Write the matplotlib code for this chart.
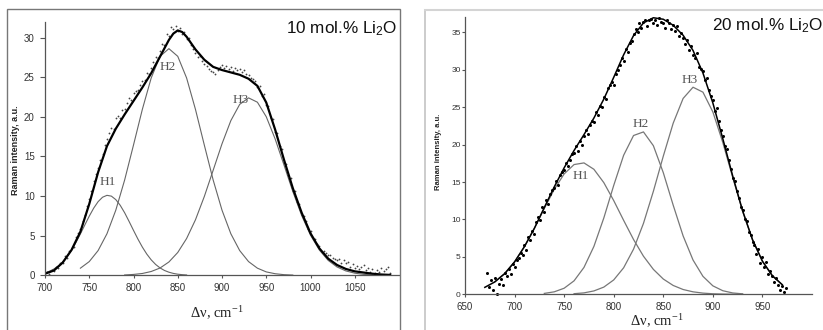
import matplotlib
matplotlib.use('Agg')
import matplotlib.pyplot as plt
from matplotlib.patches import Rectangle
from matplotlib.lines import Line2D

plt.rcParams['font.family'] = ['Liberation Sans', 'DejaVu Sans']
plt.rcParams['mathtext.default'] = 'regular'

# ---------------- data: left panel (10 mol.% Li2O) ----------------
left_data_x = [
    700.0, 702.5, 705.0, 707.5, 710.0, 712.5, 715.0, 717.5, 720.0, 722.5,
    725.0, 727.5, 730.0, 732.5, 735.0, 737.5, 740.0, 742.5, 745.0, 747.5,
    750.0, 752.5, 755.0, 757.5, 760.0, 762.5, 765.0, 767.5, 770.0, 772.5,
    775.0, 777.5, 780.0, 782.5, 785.0, 787.5, 790.0, 792.5, 795.0, 797.5,
    800.0, 802.5, 805.0, 807.5, 810.0, 812.5, 815.0, 817.5, 820.0, 822.5,
    825.0, 827.5, 830.0, 832.5, 835.0, 837.5, 840.0, 842.5, 845.0, 847.5,
    850.0, 852.5, 855.0, 857.5, 860.0, 862.5, 865.0, 867.5, 870.0, 872.5,
    875.0, 877.5, 880.0, 882.5, 885.0, 887.5, 890.0, 892.5, 895.0, 897.5,
    900.0, 902.5, 905.0, 907.5, 910.0, 912.5, 915.0, 917.5, 920.0, 922.5,
    925.0, 927.5, 930.0, 932.5, 935.0, 937.5, 940.0, 942.5, 945.0, 947.5,
    950.0, 952.5, 955.0, 957.5, 960.0, 962.5, 965.0, 967.5, 970.0, 972.5,
    975.0, 977.5, 980.0, 982.5, 985.0, 987.5, 990.0, 992.5, 995.0, 997.5,
    1000.0, 1002.5, 1005.0, 1007.5, 1010.0, 1012.5, 1015.0, 1017.5, 1020.0, 1022.5,
    1025.0, 1027.5, 1030.0, 1032.5, 1035.0, 1037.5, 1040.0, 1042.5, 1045.0, 1047.5,
    1050.0, 1052.5, 1055.0, 1057.5, 1060.0, 1062.5, 1065.0, 1067.5, 1070.0, 1072.5,
    1075.0, 1077.5, 1080.0, 1082.5, 1085.0, 1087.5, 1090.0]
left_data_y = [
    0.1, 0.4, 0.2, 0.7, 0.5, 1.1, 0.9, 1.6, 1.5, 2.4,
    2.2, 3.1, 3.5, 3.6, 4.8, 5.3, 5.9, 6.9, 7.6, 8.7,
    9.6, 10.7, 11.9, 12.8, 13.6, 14.6, 15.3, 16.4, 17.2, 17.9,
    18.6, 18.4, 19.8, 20.1, 19.9, 20.9, 21.0, 21.8, 22.4, 22.1,
    23.0, 23.3, 23.4, 24.0, 24.5, 24.7, 25.5, 25.4, 26.2, 26.9,
    27.5, 27.4, 28.3, 29.2, 29.0, 30.5, 30.2, 31.3, 31.1, 31.5,
    30.8, 31.2, 30.4, 30.7, 29.8, 29.9, 29.0, 28.5, 28.0, 27.6,
    27.7, 27.0, 26.6, 26.4, 26.0, 25.8, 25.6, 25.4, 25.9, 26.3,
    26.5, 26.2, 26.4, 26.0, 26.3, 25.8, 26.1, 25.9, 26.0, 25.7,
    25.9, 25.4, 25.3, 24.9, 24.8, 24.5, 23.8, 23.9, 22.6, 22.9,
    21.5, 21.4, 19.8, 19.7, 18.1, 17.9, 16.3, 15.9, 14.3, 14.1,
    12.6, 12.3, 10.7, 10.6, 9.3, 9.0, 7.6, 7.5, 6.9, 5.8,
    5.6, 4.7, 4.6, 4.0, 3.7, 3.0, 3.1, 2.8, 2.5, 2.6,
    2.2, 2.0, 1.9, 2.1, 1.6, 1.9, 1.5, 1.7, 1.1, 1.4,
    0.9, 1.2, 0.8, 1.1, 1.3, 0.7, 0.9, 0.4, 0.8, 0.3,
    0.7, 0.4, 0.9, 0.5, 0.8, 1.1, 0.3]

left_fit_x = [700, 710, 720, 730, 740, 750, 760, 770, 780, 790,
              800, 810, 820, 830, 840, 845, 850, 855, 860, 870, 880, 890,
              900, 910, 920, 930, 940, 950, 960, 970, 980, 990,
              1000, 1010, 1020, 1030, 1040, 1050, 1060, 1070, 1080, 1090]
left_fit_y = [0.2, 0.6, 1.6, 3.2, 5.5, 9.0, 13.0, 16.3, 18.5, 20.3,
              22.0, 23.7, 25.5, 27.6, 29.7, 30.5, 30.9, 30.7, 30.1, 28.5,
              27.2, 26.3, 25.9, 25.6, 25.3, 24.8, 23.9, 21.8, 18.4, 14.6,
              11.0, 7.9, 5.3, 3.4, 2.1, 1.3, 0.8, 0.5, 0.35, 0.2, 0.1, 0.05]

left_h1_x = [700, 705, 710, 715, 720, 725, 730, 735, 740, 745, 750, 755,
             760, 765, 770, 775, 780, 785, 790, 795, 800, 805, 810, 815,
             820, 825, 830, 835, 840, 845, 850, 855, 860]
left_h1_y = [0.32, 0.51, 0.79, 1.18, 1.70, 2.37, 3.19, 4.15, 5.22, 6.35,
             7.46, 8.47, 9.29, 9.85, 10.09, 9.99, 9.55, 8.83, 7.89, 6.80,
             5.67, 4.57, 3.56, 2.68, 1.95, 1.37, 0.93, 0.61, 0.39, 0.24,
             0.14, 0.08, 0.04]
left_h2_x = [740, 750, 760, 770, 780, 790, 800, 810, 820, 830, 840, 850,
             860, 870, 880, 890, 900, 910, 920, 930, 940, 950, 960, 970, 980]
left_h2_y = [0.90, 1.73, 3.12, 5.24, 8.22, 12.03, 16.44, 20.94, 24.90, 27.63,
             28.60, 27.63, 24.90, 20.94, 16.44, 12.03, 8.22, 5.24, 3.12, 1.73,
             0.90, 0.43, 0.20, 0.08, 0.03]
left_h3_x = [790, 800, 810, 820, 830, 840, 850, 860, 870, 880, 890, 900,
             910, 920, 930, 940, 950, 960, 970, 980, 990, 1000, 1010, 1020,
             1030, 1040, 1050, 1060, 1070]
left_h3_y = [0.04, 0.11, 0.23, 0.48, 0.92, 1.68, 2.88, 4.64, 7.00, 9.94,
             13.25, 16.59, 19.52, 21.57, 22.39, 21.84, 20.01, 17.22, 13.93,
             10.58, 7.55, 5.06, 3.19, 1.88, 1.05, 0.55, 0.27, 0.12, 0.05]

# ---------------- data: right panel (20 mol.% Li2O) ----------------
right_data_x = [
    672, 674, 676, 678, 680, 682, 684, 686, 688, 690,
    692, 694, 696, 698, 700, 702, 704, 706, 708, 710,
    712, 714, 716, 718, 720, 722, 724, 726, 728, 730,
    732, 734, 736, 738, 740, 742, 744, 746, 748, 750,
    752, 754, 756, 758, 760, 762, 764, 766, 768, 770,
    772, 774, 776, 778, 780, 782, 784, 786, 788, 790,
    792, 794, 796, 798, 800, 802, 804, 806, 808, 810,
    812, 814, 816, 818, 820, 822, 824, 826, 828, 830,
    832, 834, 836, 838, 840, 842, 844, 846, 848, 850,
    852, 854, 856, 858, 860, 862, 864, 866, 868, 870,
    872, 874, 876, 878, 880, 882, 884, 886, 888, 890,
    892, 894, 896, 898, 900, 902, 904, 906, 908, 910,
    912, 914, 916, 918, 920, 922, 924, 926, 928, 930,
    932, 934, 936, 938, 940, 942, 944, 946, 948, 950,
    952, 954, 956, 958, 960, 962, 964, 966, 968, 970,
    972, 974]
right_data_y = [
    2.8, 1.0, 1.9, 0.6, 2.2, 0.1, 1.4, 2.0, 1.3, 2.9,
    2.4, 3.4, 2.7, 4.1, 3.6, 4.6, 4.9, 5.5, 5.2, 6.6,
    5.9, 7.6, 7.3, 8.4, 8.1, 9.6, 10.3, 9.9, 11.6, 11.0,
    12.6, 12.1, 13.4, 13.9, 14.2, 15.1, 14.6, 15.9, 16.3, 16.6,
    17.6, 17.1, 18.0, 18.7, 18.9, 19.8, 19.1, 20.5, 19.9, 21.1,
    21.9, 21.4, 22.6, 23.2, 23.0, 24.3, 24.0, 25.2, 25.0, 26.4,
    26.1, 27.5, 27.9, 28.3, 28.0, 29.4, 29.9, 30.6, 31.5, 31.2,
    32.8, 32.4, 33.6, 33.9, 34.8, 35.5, 35.0, 36.2, 35.6, 36.4,
    36.7, 35.8, 36.6, 36.8, 36.3, 36.7, 36.0, 36.9, 36.4, 36.2,
    35.6, 36.7, 36.3, 35.4, 36.0, 35.2, 35.9, 34.5, 34.9, 34.2,
    33.4, 34.0, 32.6, 33.2, 32.0, 31.5, 32.2, 30.4, 30.1, 29.8,
    28.6, 28.9, 27.3, 26.5, 25.9, 24.5, 24.9, 23.1, 22.0, 21.2,
    19.8, 19.4, 17.9, 16.8, 15.6, 15.2, 13.8, 12.9, 11.6, 11.3,
    10.0, 9.8, 8.3, 7.9, 7.0, 6.6, 5.4, 6.0, 4.2, 5.0,
    3.6, 4.3, 2.7, 3.1, 2.4, 1.6, 2.2, 1.3, 0.6, 1.1,
    0.3, 0.8]

right_fit_x = [670, 680, 690, 700, 710, 720, 730, 740, 750, 760, 770,
               780, 790, 800, 810, 820, 830, 840, 850, 860, 870, 880,
               890, 900, 910, 920, 930, 940, 950, 960, 970]
right_fit_y = [0.93, 1.65, 2.76, 4.33, 6.38, 8.82, 11.59, 14.34, 16.89,
               19.21, 21.33, 23.54, 26.07, 28.98, 31.99, 34.56, 36.25,
               36.94, 36.74, 35.94, 34.60, 32.57, 29.56, 25.56, 20.80,
               15.81, 11.16, 7.29, 4.42, 2.48, 1.28]

right_h1_x = [680, 690, 700, 710, 720, 730, 740, 750, 760, 770, 780, 790,
              800, 810, 820, 830, 840, 850, 860, 870, 880, 890, 900, 910,
              920, 930]
right_h1_y = [1.65, 2.76, 4.33, 6.38, 8.82, 11.47, 14.01, 16.08, 17.33,
              17.55, 16.70, 14.92, 12.52, 9.88, 7.32, 5.09, 3.33, 2.04,
              1.18, 0.64, 0.33, 0.16, 0.07, 0.03, 0.01, 0.0]
right_h2_x = [730, 740, 750, 760, 770, 780, 790, 800, 810, 820, 830, 840,
              850, 860, 870, 880, 890, 900, 910, 920, 930]
right_h2_y = [0.12, 0.33, 0.81, 1.80, 3.59, 6.39, 10.19, 14.54, 18.57,
              21.21, 21.69, 19.85, 16.25, 11.90, 7.80, 4.58, 2.40, 1.13,
              0.48, 0.18, 0.06]
right_h3_x = [760, 770, 780, 790, 800, 810, 820, 830, 840, 850, 860, 870,
              880, 890, 900, 910, 920, 930, 940, 950, 960, 970]
right_h3_y = [0.08, 0.19, 0.45, 0.96, 1.92, 3.54, 6.03, 9.47, 13.76, 18.45,
              22.86, 26.16, 27.66, 27.00, 24.36, 20.29, 15.62, 11.10, 7.29,
              4.42, 2.48, 1.28]

left_xticks = [700, 750, 800, 850, 900, 950, 1000, 1050]
left_yticks = [0, 5, 10, 15, 20, 25, 30]
right_xticks = [650, 700, 750, 800, 850, 900, 950]
right_yticks = [0, 5, 10, 15, 20, 25, 30, 35]

peak_labels = ['H1', 'H2', 'H3']
left_label_pos_x = [771, 839, 921]
left_label_pos_y = [11.8, 26.3, 22.1]
right_label_pos_x = [767, 827, 877]
right_label_pos_y = [15.8, 22.7, 28.6]

left_title = '10 mol.% Li$_2$O'
right_title = '20 mol.% Li$_2$O'
y_label = 'Raman intensity, a.u.'
x_label = 'Δν, cm$^{-1}$'

# ---------------- figure ----------------
W, H = 823, 330
fig = plt.figure(figsize=(W / 100, H / 100), dpi=100)


def fx(px):
    return px / W


def fy(py):
    return 1 - py / H


# panel frames
fig.add_artist(Rectangle((fx(7), -0.05), (400 - 7) / W, fy(8.5) + 0.05,
                         transform=fig.transFigure, fill=False,
                         ec='#777777', lw=1.0))
fig.add_artist(Line2D([fx(425), fx(425)], [fy(10), -0.05],
                      transform=fig.transFigure, color='#c8c8c8', lw=1.3))
fig.add_artist(Line2D([fx(425), 1.05], [fy(10), fy(10)],
                      transform=fig.transFigure, color='#d4d4d4', lw=1.5))

axL = fig.add_axes([fx(45), fy(275.3), (399 - 45) / W, (275.3 - 21.7) / H])
axR = fig.add_axes([fx(465), fy(294.3), (812 - 465) / W, (294.3 - 17.3) / H])


def style(ax, xt, yt, ysize, ypad, ylen):
    for s in ['top', 'right']:
        ax.spines[s].set_visible(False)
    for s in ['left', 'bottom']:
        ax.spines[s].set_color('#555555')
        ax.spines[s].set_linewidth(0.9)
    ax.set_xticks(xt)
    ax.set_yticks(yt)
    ax.tick_params(axis='x', direction='out', length=2, width=0.8, pad=3.5,
                   labelsize=7, color='#555555', labelcolor='#333333')
    ax.tick_params(axis='y', direction='out', length=ylen, width=0.8,
                   pad=ypad, labelsize=ysize, color='#555555',
                   labelcolor='#333333')
    for lbl in ax.get_yticklabels():
        lbl.set_family(['Liberation Sans Narrow', 'Liberation Sans'])
    ax.patch.set_alpha(0)


style(axL, left_xticks, left_yticks, 7, 4, 3.5)
style(axR, right_xticks, right_yticks, 6, 1, 2)
axL.set_xlim(700, 1100)
axL.set_ylim(0, 32)
axR.set_xlim(650, 1000)
axR.set_ylim(0, 37)

# left panel
axL.plot(left_h1_x, left_h1_y, color='#666666', lw=0.8)
axL.plot(left_h2_x, left_h2_y, color='#666666', lw=0.8)
axL.plot(left_h3_x, left_h3_y, color='#666666', lw=0.8)
axL.plot(left_data_x, left_data_y, ls='none', marker='o', ms=1.3,
         mfc='#444444', mec='none')
axL.plot(left_fit_x, left_fit_y, color='black', lw=1.6)

# right panel
axR.plot(right_h1_x, right_h1_y, color='#777777', lw=0.9)
axR.plot(right_h2_x, right_h2_y, color='#777777', lw=0.9)
axR.plot(right_h3_x, right_h3_y, color='#777777', lw=0.9)
axR.plot(right_data_x, right_data_y, ls='none', marker='o', ms=2.2,
         mfc='black', mec='none', clip_on=False)
axR.plot(right_fit_x, right_fit_y, color='black', lw=1.1)

for lab, x, y in zip(peak_labels, left_label_pos_x, left_label_pos_y):
    axL.text(x, y, lab, ha='center', va='center', family='Liberation Serif',
             fontsize=9.5, color='#555555')
for lab, x, y in zip(peak_labels, right_label_pos_x, right_label_pos_y):
    axR.text(x, y, lab, ha='center', va='center', family='Liberation Serif',
             fontsize=9.5, color='#555555')

# titles
fig.text(fx(397), fy(33), left_title, ha='right', va='baseline',
         fontsize=12.3, color='#111111')
fig.text(fx(712), fy(30), right_title, ha='left', va='baseline',
         fontsize=12.3, color='#111111')

# axis labels
fig.text(fx(16), fy(150), y_label, rotation=90, ha='center', va='center',
         fontsize=6.5, fontweight='bold', color='#222222')
fig.text(fx(438.5), fy(152), y_label, rotation=90, ha='center', va='center',
         fontsize=5.5, fontweight='bold', color='#222222')
fig.text(fx(216.7), fy(313), x_label, ha='center', va='center',
         family='Liberation Serif', fontsize=10.5, color='#222222')
fig.text(fx(657), fy(321.7), x_label, ha='center', va='center',
         family='Liberation Serif', fontsize=10.5, color='#222222')

fig.savefig('out.png', dpi=100)
